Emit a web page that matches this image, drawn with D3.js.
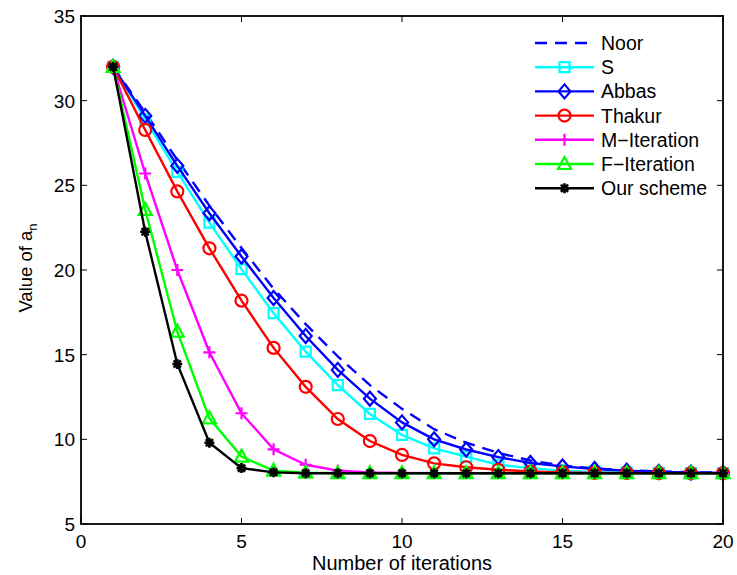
<!DOCTYPE html>
<html>
<head>
<meta charset="utf-8">
<script src="https://cdn.jsdelivr.net/npm/d3@7"></script>
<style>
  body { margin: 0; background: #fff; }
  svg { display: block; font-family: "Liberation Sans", Arial, sans-serif; }
</style>
</head>
<body>
<svg id="chart" width="737" height="575"></svg>
<script>
// iteration numbers on the x axis
const iterations = d3.range(1, 21);

// values of a_n for each scheme
const noor   = [32, 29.3, 26.5, 23.8, 21.3, 18.9, 16.8, 14.9, 13.2, 11.8, 10.6, 9.8, 9.2, 8.75, 8.45, 8.28, 8.17, 8.1, 8.06, 8.03];
const sIter  = [32, 28.9, 25.8, 22.8, 20.05, 17.45, 15.18, 13.2, 11.5, 10.26, 9.47, 8.98, 8.5, 8.3, 8.15, 8.08, 8.04, 8.02, 8.01, 8.0];
const abbas  = [32, 29.1, 26.15, 23.35, 20.8, 18.35, 16.1, 14.1, 12.4, 11.0, 10.0, 9.4, 8.95, 8.6, 8.4, 8.25, 8.15, 8.08, 8.04, 8.02];
const thakur = [32, 28.27, 24.64, 21.28, 18.19, 15.4, 13.1, 11.2, 9.9, 9.08, 8.58, 8.35, 8.2, 8.1, 8.05, 8.02, 8.01, 8.0, 8.0, 8.0];
const mIter  = [32, 25.7, 20.0, 15.14, 11.54, 9.41, 8.5, 8.15, 8.05, 8.02, 8.0, 8.0, 8.0, 8.0, 8.0, 8.0, 8.0, 8.0, 8.0, 8.0];
const fIter  = [32, 23.55, 16.36, 11.24, 8.98, 8.15, 8.03, 8.0, 8.0, 8.0, 8.0, 8.0, 8.0, 8.0, 8.0, 8.0, 8.0, 8.0, 8.0, 8.0];
const ours   = [32, 22.26, 14.45, 9.8, 8.3, 8.05, 8.0, 8.0, 8.0, 8.0, 8.0, 8.0, 8.0, 8.0, 8.0, 8.0, 8.0, 8.0, 8.0, 8.0];

const xTicks = [0, 5, 10, 15, 20];
const yTicks = [5, 10, 15, 20, 25, 30, 35];

// series list in drawing order (last one ends up on top)
const series = [
  { name: "Noor",        values: noor,   color: "#0000ff", marker: null,       dash: "12,8" },
  { name: "S",           values: sIter,  color: "#00ffff", marker: "square" },
  { name: "Abbas",       values: abbas,  color: "#0000ff", marker: "diamond" },
  { name: "Thakur",      values: thakur, color: "#ff0000", marker: "circle" },
  { name: "M\u2212Iteration", values: mIter, color: "#ff00ff", marker: "plus" },
  { name: "F\u2212Iteration", values: fIter, color: "#00ff00", marker: "triangle" },
  { name: "Our scheme",  values: ours,   color: "#000000", marker: "star" },
];

const svg = d3.select("#chart");
const margin = { left: 81, right: 14, top: 16, bottom: 51 };
const W = 737, H = 575;

const x = d3.scaleLinear().domain([0, 20]).range([margin.left, W - margin.right]);
const y = d3.scaleLinear().domain([5, 35]).range([H - margin.bottom, margin.top]);

// marker paths centered at 0,0
function markerPath(type) {
  switch (type) {
    case "square":   return "M-5,-5H5V5H-5Z";
    case "diamond":  return "M0,-7L6,0L0,7L-6,0Z";
    case "circle":   return "M6,0A6,6 0 1,1 -6,0A6,6 0 1,1 6,0Z";
    case "plus":     return "M-6,0H6M0,-6V6";
    case "triangle": return "M0,-7L6.5,5L-6.5,5Z";
    case "star":     return "M-5,0H5M0,-5V5M-3.6,-3.6L3.6,3.6M-3.6,3.6L3.6,-3.6";
  }
  return "";
}

// plot lines and markers
const line = d3.line()
  .x((d, i) => x(iterations[i]))
  .y(d => y(d));

const plot = svg.append("g");

series.forEach(s => {
  plot.append("path")
    .attr("d", line(s.values))
    .attr("fill", "none")
    .attr("stroke", s.color)
    .attr("stroke-width", 2.4)
    .attr("stroke-dasharray", s.dash || null);

  if (s.marker) {
    plot.selectAll(null)
      .data(s.values)
      .join("path")
      .attr("transform", (d, i) => `translate(${x(iterations[i])},${y(d)})`)
      .attr("d", markerPath(s.marker))
      .attr("fill", "none")
      .attr("stroke", s.color)
      .attr("stroke-width", s.marker == "star" ? 2.6 : 2.2);
  }
});

// axes box with inward ticks on all four sides (matlab style)
const axisColor = "#000";
svg.append("rect")
  .attr("x", x(0)).attr("y", y(35))
  .attr("width", x(20) - x(0)).attr("height", y(5) - y(35))
  .attr("fill", "none").attr("stroke", axisColor).attr("stroke-width", 1.8);

const tickLen = 6;
const ticks = svg.append("g").attr("stroke", axisColor).attr("stroke-width", 1);

xTicks.forEach(t => {
  ticks.append("line").attr("x1", x(t)).attr("x2", x(t)).attr("y1", y(5)).attr("y2", y(5) - tickLen);
  ticks.append("line").attr("x1", x(t)).attr("x2", x(t)).attr("y1", y(35)).attr("y2", y(35) + tickLen);
});
yTicks.forEach(t => {
  ticks.append("line").attr("x1", x(0)).attr("x2", x(0) + tickLen).attr("y1", y(t)).attr("y2", y(t));
  ticks.append("line").attr("x1", x(20)).attr("x2", x(20) - tickLen).attr("y1", y(t)).attr("y2", y(t));
});

// tick labels
svg.selectAll("text.xt")
  .data(xTicks)
  .join("text")
  .attr("class", "xt")
  .attr("x", d => x(d))
  .attr("y", y(5) + 24)
  .attr("text-anchor", "middle")
  .attr("font-size", 19)
  .text(d => d);

svg.selectAll("text.yt")
  .data(yTicks)
  .join("text")
  .attr("class", "yt")
  .attr("x", x(0) - 6)
  .attr("y", d => y(d))
  .attr("dy", "0.36em")
  .attr("text-anchor", "end")
  .attr("font-size", 19)
  .text(d => d);

// axis titles
svg.append("text")
  .attr("x", (x(0) + x(20)) / 2)
  .attr("y", 570)
  .attr("text-anchor", "middle")
  .attr("font-size", 20)
  .text("Number of iterations");

const ylab = svg.append("text")
  .attr("transform", `translate(32, ${(y(5) + y(35)) / 2 - 2}) rotate(-90)`)
  .attr("text-anchor", "middle")
  .attr("font-size", 18.5);
ylab.append("tspan").text("Value of a");
ylab.append("tspan").attr("font-size", 13).attr("dy", 5).text("n");

// legend, no frame
const legend = svg.append("g").attr("transform", "translate(535, 43)");
const rowH = 24.2;

series.forEach((s, i) => {
  const row = legend.append("g").attr("transform", `translate(0, ${i * rowH})`);
  row.append("line")
    .attr("x1", 0).attr("x2", 59)
    .attr("stroke", s.color)
    .attr("stroke-width", 2.4)
    .attr("stroke-dasharray", s.dash || null);
  if (s.marker) {
    row.append("path")
      .attr("transform", "translate(29.5,0)")
      .attr("d", markerPath(s.marker))
      .attr("fill", "none")
      .attr("stroke", s.color)
      .attr("stroke-width", s.marker == "star" ? 2.6 : 2.2);
  }
  row.append("text")
    .attr("x", 66)
    .attr("dy", "0.36em")
    .attr("font-size", 19.5)
    .text(s.name);
});
</script>
</body>
</html>
